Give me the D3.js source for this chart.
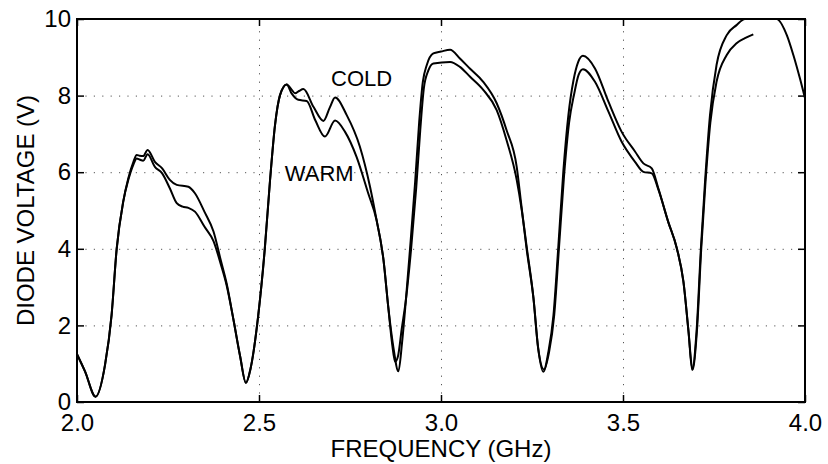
<!DOCTYPE html>
<html lang="en">
<head>
    <meta charset="UTF-8">
    <title>Diode Voltage</title>
    <script src="https://d3js.org/d3.v7.min.js"></script>
    <style>
        body { margin: 0; background: white; }
        text { font-family: "Liberation Sans", Arial, sans-serif; fill: black; }
        .grid line { stroke: #555; stroke-width: 1px; stroke-dasharray: 1.2,7.2; }
        .grid path { display: none; }
        .axis path { display: none; }
        .axis line { stroke: black; stroke-width: 1.5px; }
    </style>
</head>
<body>
<svg id="main" width="828" height="464"></svg>
<script>
    // values (frequency GHz, diode voltage V)
    let coldFreq = [2.000, 2.022, 2.051, 2.077, 2.095, 2.109, 2.127, 2.141, 2.155, 2.164, 2.172, 2.182, 2.194,
        2.214, 2.234, 2.255, 2.274, 2.306, 2.324, 2.350, 2.375, 2.395, 2.411, 2.430, 2.448, 2.464, 2.477,
        2.498, 2.516, 2.530, 2.544, 2.558, 2.576, 2.590, 2.599, 2.610, 2.622, 2.650, 2.677, 2.695, 2.709,
        2.741, 2.777, 2.805, 2.823, 2.842, 2.855, 2.869, 2.883, 2.893, 2.903, 2.915, 2.929, 2.940, 2.950,
        2.961, 2.979, 3.000, 3.025, 3.052, 3.080, 3.116, 3.153, 3.180, 3.208, 3.220, 3.235, 3.254, 3.267,
        3.281, 3.295, 3.309, 3.322, 3.336, 3.350, 3.364, 3.377, 3.390, 3.423, 3.460, 3.496, 3.533, 3.556,
        3.579, 3.597, 3.624, 3.648, 3.666, 3.680, 3.690, 3.702, 3.714, 3.725, 3.739, 3.757, 3.785, 3.812,
        3.835, 3.880, 3.922, 3.950, 3.968, 3.986, 4.000];
    let coldVolt = [1.25, 0.80, 0.14, 0.97, 2.27, 4.00, 5.23, 5.84, 6.27, 6.45, 6.43, 6.42, 6.58,
        6.27, 6.10, 5.80, 5.67, 5.62, 5.45, 4.97, 4.45, 3.70, 3.10, 2.14, 1.20, 0.50, 0.88,
        2.27, 4.01, 5.75, 7.23, 8.02, 8.29, 8.15, 8.06, 8.12, 8.17, 7.70, 7.34, 7.70, 7.95,
        7.49, 6.67, 5.62, 4.75, 3.71, 2.49, 1.44, 0.80, 1.55, 2.60, 4.01, 5.75, 7.30, 8.35,
        8.80, 9.10, 9.15, 9.20, 8.97, 8.70, 8.36, 7.80, 7.10, 6.14, 5.20, 4.01, 2.71, 1.40,
        0.79, 1.31, 2.27, 4.01, 6.01, 7.49, 8.40, 8.88, 9.04, 8.71, 7.84, 7.06, 6.54, 6.23,
        6.10, 5.58, 4.71, 4.01, 3.14, 1.84, 0.84, 1.84, 4.01, 5.70, 7.49, 8.80, 9.58, 9.84,
        10.00, 10.00, 10.00, 9.58, 9.06, 8.45, 7.93];

    let warmFreq = [2.000, 2.022, 2.051, 2.077, 2.095, 2.109, 2.127, 2.141, 2.155, 2.164, 2.172, 2.182, 2.194,
        2.214, 2.234, 2.255, 2.274, 2.290, 2.306, 2.324, 2.350, 2.375, 2.395, 2.411, 2.430, 2.448, 2.464, 2.477,
        2.498, 2.516, 2.530, 2.544, 2.558, 2.576, 2.590, 2.608, 2.631, 2.655, 2.681, 2.709, 2.736, 2.768,
        2.800, 2.823, 2.842, 2.855, 2.866, 2.874, 2.882, 2.892, 2.904, 2.918, 2.932, 2.943, 2.953, 2.965,
        2.979, 3.025, 3.052, 3.080, 3.116, 3.153, 3.180, 3.208, 3.222, 3.236, 3.254, 3.267, 3.283, 3.297,
        3.311, 3.324, 3.338, 3.352, 3.366, 3.378, 3.390, 3.423, 3.460, 3.496, 3.533, 3.556, 3.579, 3.597,
        3.624, 3.648, 3.666, 3.680, 3.691, 3.703, 3.715, 3.726, 3.740, 3.757, 3.785, 3.812, 3.835, 3.858];
    let warmVolt = [1.25, 0.80, 0.14, 0.97, 2.27, 4.00, 5.23, 5.80, 6.20, 6.36, 6.33, 6.30, 6.47,
        6.14, 5.97, 5.58, 5.19, 5.10, 5.07, 4.97, 4.58, 4.20, 3.60, 3.05, 2.14, 1.20, 0.50, 0.88,
        2.27, 4.01, 5.75, 7.23, 8.02, 8.29, 8.05, 7.89, 7.86, 7.35, 6.93, 7.35, 7.06, 6.40,
        5.45, 4.75, 3.71, 2.49, 1.50, 1.05, 1.20, 1.90, 2.70, 4.01, 5.60, 7.10, 8.20, 8.65,
        8.84, 8.88, 8.75, 8.49, 8.15, 7.62, 6.84, 5.80, 5.00, 4.01, 2.71, 1.40, 0.85, 1.31,
        2.27, 4.01, 5.90, 7.30, 8.05, 8.54, 8.69, 8.36, 7.58, 6.80, 6.27, 6.01, 5.97, 5.55,
        4.71, 4.01, 3.14, 1.84, 0.84, 1.84, 4.01, 5.65, 7.30, 8.36, 9.06, 9.37, 9.50, 9.60];

    let xTicks = [2.0, 2.5, 3.0, 3.5, 4.0];
    let yTicks = [0, 2, 4, 6, 8, 10];
    let labels = [{text: "COLD", f: 2.698, v: 8.25}, {text: "WARM", f: 2.571, v: 5.77}];

    let svg = d3.select('svg#main');
    let margins = {left: 77, right: 23, top: 19, bottom: 62};
    let W = 828, H = 464;
    let xRng = [margins.left, W - margins.right];
    let yRng = [H - margins.bottom, margins.top];

    let x = d3.scaleLinear().domain([2, 4]).range(xRng);
    let y = d3.scaleLinear().domain([0, 10]).range(yRng);

    //dotted grid
    svg.append('g').attr('class', 'grid')
        .attr('transform', 'translate(0,' + yRng[0] + ')')
        .call(d3.axisBottom(x).tickValues([2.5, 3.0, 3.5]).tickSize(-(yRng[0] - yRng[1])).tickFormat(''));
    svg.append('g').attr('class', 'grid')
        .attr('transform', 'translate(' + xRng[0] + ',0)')
        .call(d3.axisLeft(y).tickValues([2, 4, 6, 8]).tickSize(-(xRng[1] - xRng[0])).tickFormat(''));

    //clip so the cold trace stops at the frame
    svg.append('clipPath').attr('id', 'plotclip')
        .append('rect').attr('x', xRng[0]).attr('y', yRng[1])
        .attr('width', xRng[1] - xRng[0]).attr('height', yRng[0] - yRng[1]);

    let line = d3.line()
        .x(function (d) { return x(d[0]); })
        .y(function (d) { return y(d[1]); })
        .curve(d3.curveMonotoneX);

    let cold = d3.zip(coldFreq, coldVolt);
    let warm = d3.zip(warmFreq, warmVolt);

    let fig = svg.append('g').attr('clip-path', 'url(#plotclip)');
    [cold, warm].forEach(function (series) {
        fig.append('path').datum(series)
            .attr('d', line)
            .style('fill', 'none')
            .style('stroke', 'black')
            .style('stroke-width', '2px')
            .style('stroke-linejoin', 'round');
    });

    //axes, ticks pointing inward on all four sides
    let tickLen = 7;
    svg.append('g').attr('class', 'axis')
        .attr('transform', 'translate(0,' + yRng[0] + ')')
        .call(d3.axisBottom(x).tickValues(xTicks).tickSizeInner(-tickLen).tickSizeOuter(0).tickPadding(12)
            .tickFormat(d3.format('.1f')))
        .selectAll('text').style('font-size', '24px');
    svg.append('g').attr('class', 'axis')
        .attr('transform', 'translate(0,' + yRng[1] + ')')
        .call(d3.axisTop(x).tickValues(xTicks).tickSizeInner(-tickLen).tickSizeOuter(0).tickFormat(''));
    svg.append('g').attr('class', 'axis')
        .attr('transform', 'translate(' + xRng[0] + ',0)')
        .call(d3.axisLeft(y).tickValues(yTicks).tickSizeInner(-tickLen).tickSizeOuter(0).tickPadding(6))
        .selectAll('text').style('font-size', '24px');
    svg.append('g').attr('class', 'axis')
        .attr('transform', 'translate(' + xRng[1] + ',0)')
        .call(d3.axisRight(y).tickValues(yTicks).tickSizeInner(-tickLen).tickSizeOuter(0).tickFormat(''));

    //frame
    svg.append('rect')
        .attr('x', xRng[0]).attr('y', yRng[1])
        .attr('width', xRng[1] - xRng[0]).attr('height', yRng[0] - yRng[1])
        .style('fill', 'none').style('stroke', 'black').style('stroke-width', '2px');

    //curve labels
    svg.selectAll('text.lbl').data(labels).enter().append('text')
        .attr('class', 'lbl')
        .attr('x', function (d) { return x(d.f); })
        .attr('y', function (d) { return y(d.v); })
        .style('font-size', '22px')
        .text(function (d) { return d.text; });

    //axis titles
    svg.append('text')
        .attr('x', (xRng[0] + xRng[1]) / 2).attr('y', 457)
        .attr('text-anchor', 'middle')
        .style('font-size', '24px')
        .text('FREQUENCY (GHz)');
    svg.append('text')
        .attr('transform', 'translate(34,' + ((yRng[0] + yRng[1]) / 2) + ') rotate(-90)')
        .attr('text-anchor', 'middle')
        .style('font-size', '24px')
        .text('DIODE VOLTAGE (V)');
</script>
</body>
</html>
